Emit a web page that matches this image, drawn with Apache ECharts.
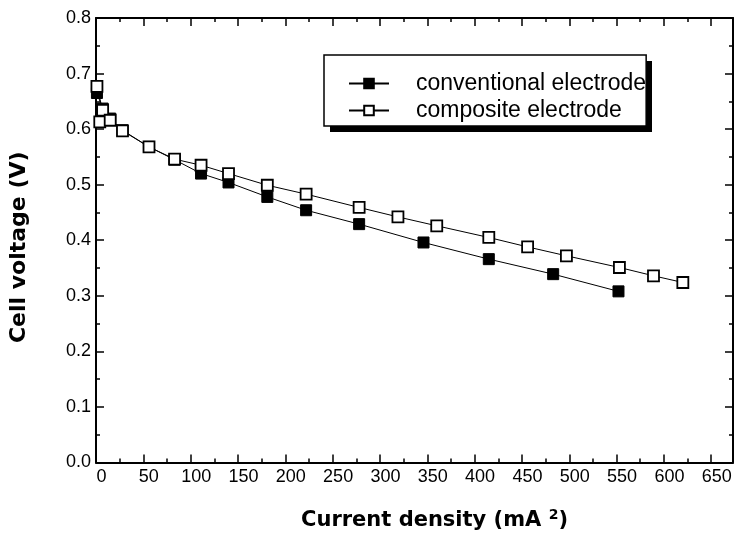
<!DOCTYPE html>
<html lang="en">

<head>
    <meta charset="UTF-8">
    <title>Cell voltage vs current density</title>
    <script src="https://cdn.jsdelivr.net/npm/echarts/dist/echarts.min.js"></script>
    <style>
        html, body {
            margin: 0;
            padding: 0;
            background-color: #fff;
        }

        #chart {
            width: 736px;
            height: 536px;
        }
    </style>
</head>

<body>
    <div id="chart"></div>
    <script>
        // Datos
        const conventionalX = [1, 7, 15, 28, 56, 83, 111, 140, 181, 222, 278, 346, 415, 483, 552];
        const conventionalY = [0.665, 0.637, 0.619, 0.598, 0.568, 0.545, 0.520, 0.504, 0.478, 0.454, 0.429, 0.396, 0.366, 0.339, 0.308];

        const compositeX = [1, 7, 4, 15, 28, 56, 83, 111, 140, 181, 222, 278, 319, 360, 415, 456, 497, 553, 589, 620];
        const compositeY = [0.677, 0.634, 0.613, 0.616, 0.597, 0.568, 0.546, 0.535, 0.520, 0.499, 0.483, 0.459, 0.442, 0.426, 0.405, 0.388, 0.372, 0.351, 0.336, 0.324];

        const seriesNames = ['conventional electrode', 'composite electrode'];

        const xTicks = { min: 0, max: 673, interval: 50 };
        const yTicks = { min: 0, max: 0.8, interval: 0.1 };

        function pairs(xs, ys) {
            return xs.map((x, i) => [x, ys[i]]);
        }

        var myChart = echarts.init(document.getElementById('chart'));

        var tickFont = { fontFamily: 'Liberation Sans', fontSize: 18, color: '#000' };

        function boxAxis(extra) {
            return Object.assign({
                type: 'value',
                axisLine: { show: true, onZero: false, lineStyle: { color: '#000', width: 2 } },
                axisTick: { show: true, inside: true, length: 8, lineStyle: { color: '#000', width: 1.5 } },
                minorTick: { show: true, splitNumber: 2, length: 4, lineStyle: { color: '#000', width: 1.5 } },
                splitLine: { show: false },
                minorSplitLine: { show: false }
            }, extra);
        }

        var option = {
            animation: false,
            // sombra negra del recuadro de la leyenda
            graphic: [{
                type: 'rect',
                left: 330,
                top: 61,
                shape: { width: 322, height: 71 },
                style: { fill: '#000' },
                z: 90
            }],
            grid: { left: 95, top: 18, right: 1.4, bottom: 73.3 },
            legend: {
                left: 324,
                top: 55,
                orient: 'vertical',
                padding: [17, 0, 4, 24],
                itemGap: 4,
                itemWidth: 40,
                itemHeight: 12,
                backgroundColor: '#fff',
                borderColor: '#000',
                borderWidth: 1.5,
                borderRadius: 0,
                z: 100,
                textStyle: {
                    fontFamily: 'Liberation Sans',
                    fontSize: 23,
                    color: '#000',
                    padding: [0, 0, 0, 22]
                },
                data: seriesNames
            },
            xAxis: [
                boxAxis({
                    min: xTicks.min,
                    max: xTicks.max,
                    interval: xTicks.interval,
                    position: 'bottom',
                    name: 'Current density (mA {sup|2})',
                    nameLocation: 'middle',
                    nameGap: 46,
                    nameTextStyle: {
                        fontFamily: 'DejaVu Sans',
                        fontWeight: 'bold',
                        fontSize: 21,
                        color: '#000',
                        padding: [0, 0, 0, 40],
                        rich: {
                            sup: {
                                fontFamily: 'DejaVu Sans',
                                fontWeight: 'bold',
                                fontSize: 14,
                                color: '#000',
                                padding: [0, 0, 10, 0]
                            }
                        }
                    },
                    axisLabel: Object.assign({
                        margin: 6,
                        padding: [0, 0, 0, 11],
                        formatter: v => (v % 50 === 0 ? String(v) : '')
                    }, tickFont)
                }),
                boxAxis({
                    min: xTicks.min,
                    max: xTicks.max,
                    interval: xTicks.interval,
                    position: 'top',
                    axisLabel: { show: false }
                })
            ],
            yAxis: [
                boxAxis({
                    min: yTicks.min,
                    max: yTicks.max,
                    interval: yTicks.interval,
                    position: 'left',
                    name: 'Cell voltage (V)',
                    nameLocation: 'middle',
                    nameGap: 66,
                    nameTextStyle: {
                        fontFamily: 'DejaVu Sans',
                        fontWeight: 'bold',
                        fontSize: 22,
                        color: '#000',
                        padding: [0, 14, 0, 0]
                    },
                    axisLabel: Object.assign({
                        margin: 5,
                        formatter: v => v.toFixed(1)
                    }, tickFont)
                }),
                boxAxis({
                    min: yTicks.min,
                    max: yTicks.max,
                    interval: yTicks.interval,
                    position: 'right',
                    axisLabel: { show: false }
                })
            ],
            series: [
                {
                    name: seriesNames[0],
                    type: 'line',
                    data: pairs(conventionalX, conventionalY),
                    symbol: 'rect',
                    symbolSize: 11,
                    lineStyle: { color: '#000', width: 1 },
                    itemStyle: { color: '#000', borderColor: '#000', borderWidth: 1 },
                    z: 2
                },
                {
                    name: seriesNames[1],
                    type: 'line',
                    data: pairs(compositeX, compositeY),
                    symbol: 'rect',
                    symbolSize: 11,
                    lineStyle: { color: '#000', width: 1 },
                    itemStyle: { color: '#fff', borderColor: '#000', borderWidth: 1.8 },
                    z: 3
                }
            ]
        };

        myChart.setOption(option);
    </script>
</body>

</html>
